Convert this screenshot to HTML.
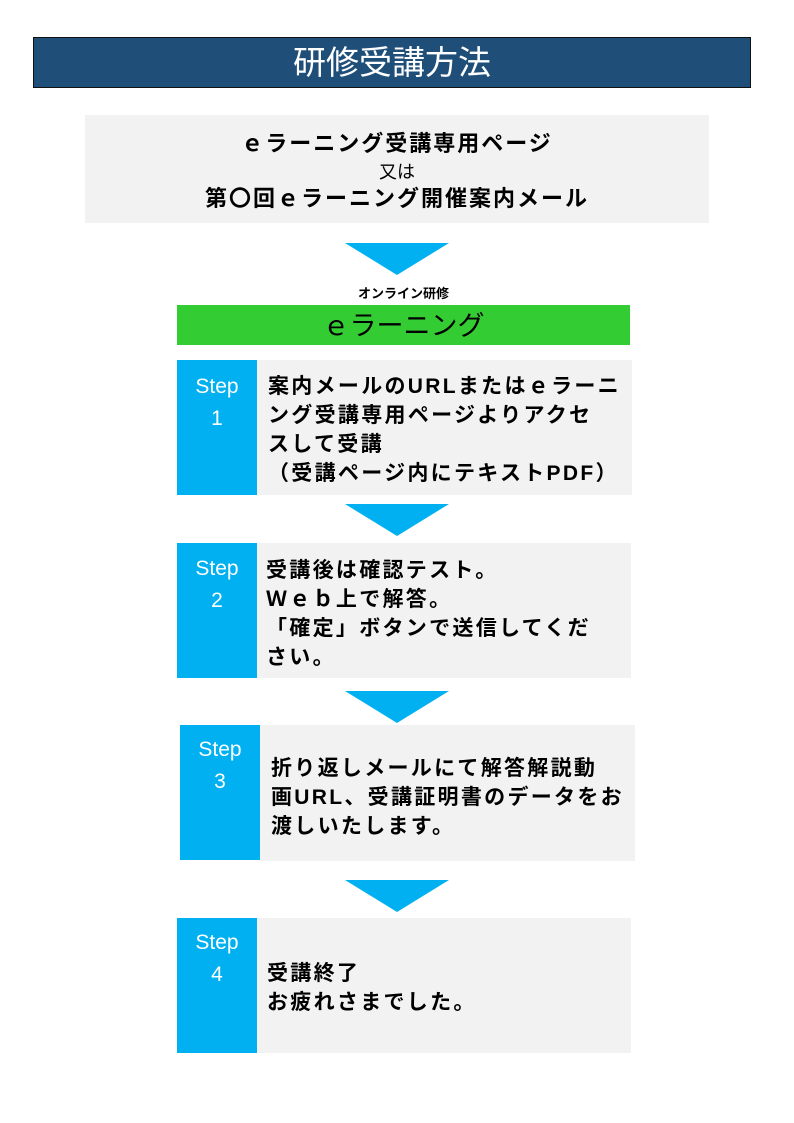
<!DOCTYPE html>
<html><head><meta charset="utf-8"><style>
body{margin:0;width:794px;height:1123px;background:#fff;position:relative;font-family:"Liberation Sans","Noto Sans CJK JP",sans-serif;overflow:hidden}
.a{position:absolute}
.title{left:33px;top:37px;width:716px;height:49px;background:#1f4e79;border:1px solid #111;color:#fff;font-size:33px;text-align:center;line-height:49px}
.gray{background:#f2f2f2}
.blue{background:#00b0f0;color:#fff;text-align:center;font-size:21px;line-height:32px}
.tri{width:0;height:0;border-left:52px solid transparent;border-right:52px solid transparent;border-top:32px solid #00b0f0}
.txt{font-size:21px;font-weight:bold;line-height:29px;letter-spacing:2.3px;white-space:nowrap;color:#000}
</style></head><body>
<div class="a title">研修受講方法</div>
<div class="a gray" style="left:85px;top:115px;width:624px;height:108px;text-align:center;font-weight:bold;font-size:22px;letter-spacing:2px">
<div style="position:absolute;top:15px;width:100%;line-height:28px">ｅラーニング受講専用ページ</div>
<div style="position:absolute;top:46px;width:100%;line-height:22px;font-weight:normal;font-size:18px;letter-spacing:0">又は</div>
<div style="position:absolute;top:70px;width:100%;line-height:28px">第〇回ｅラーニング開催案内メール</div>
</div>
<div class="a tri" style="left:345px;top:243px"></div>
<div class="a" style="left:177px;top:283px;width:453px;text-align:center;font-size:13px;font-weight:bold">オンライン研修</div>
<div class="a" style="left:177px;top:305px;width:453px;height:40px;background:#33cc33;text-align:center;font-size:27px;line-height:42px">ｅラーニング</div>

<div class="a gray" style="left:257px;top:360px;width:375px;height:135px"></div>
<div class="a blue" style="left:177px;top:360px;width:80px;height:135px;padding-top:11px;box-sizing:border-box">Step<br>1</div>
<div class="a txt" style="left:268px;top:372px">案内メールのURLまたはｅラーニ<br>ング受講専用ページよりアクセ<br>スして受講<br>（受講ページ内にテキストPDF）</div>

<div class="a tri" style="left:345px;top:504px"></div>

<div class="a gray" style="left:257px;top:543px;width:374px;height:135px"></div>
<div class="a blue" style="left:177px;top:543px;width:80px;height:135px;padding-top:10px;box-sizing:border-box">Step<br>2</div>
<div class="a txt" style="left:266px;top:556px">受講後は確認テスト。<br>Ｗｅｂ上で解答。<br>「確定」ボタンで送信してくだ<br>さい。</div>

<div class="a tri" style="left:345px;top:691px"></div>

<div class="a gray" style="left:260px;top:725px;width:375px;height:136px"></div>
<div class="a blue" style="left:180px;top:725px;width:80px;height:135px;padding-top:9px;box-sizing:border-box">Step<br>3</div>
<div class="a txt" style="left:271px;top:754px">折り返しメールにて解答解説動<br>画URL、受講証明書のデータをお<br>渡しいたします。</div>

<div class="a tri" style="left:345px;top:880px"></div>

<div class="a gray" style="left:257px;top:918px;width:374px;height:135px"></div>
<div class="a blue" style="left:177px;top:918px;width:80px;height:135px;padding-top:9px;box-sizing:border-box">Step<br>4</div>
<div class="a txt" style="left:267px;top:959px">受講終了<br>お疲れさまでした。</div>
</body></html>
